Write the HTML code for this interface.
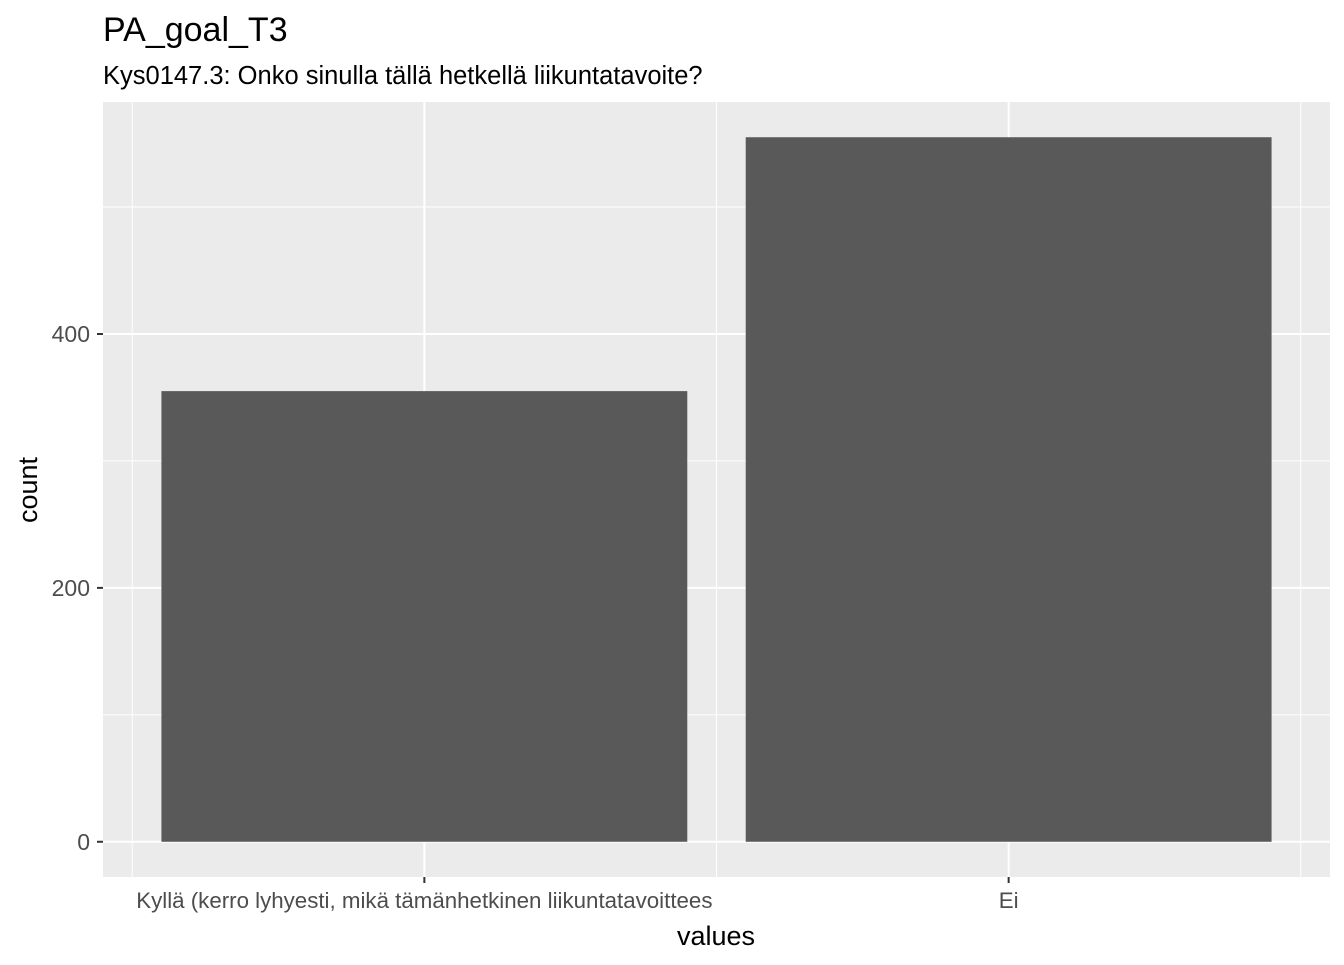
<!DOCTYPE html>
<html><head><meta charset="utf-8"><style>
body{margin:0;background:#fff;width:1344px;height:960px;overflow:hidden;font-family:"Liberation Sans",Arial,sans-serif}
</style></head><body>
<svg width="1344" height="960" id="chart" xmlns="http://www.w3.org/2000/svg">
<text x="103" y="41" font-size="34" fill="#000">PA_goal_T3</text>
<text x="103" y="84" font-size="25.5" fill="#000">Kys0147.3: Onko sinulla tällä hetkellä liikuntatavoite?</text>
<rect x="103" y="102" width="1227" height="775" fill="#ebebeb"/>
<g id="grid"></g><g id="bars"></g><g id="axes"></g>
<text x="716" y="945" font-size="27" text-anchor="middle" fill="#000">values</text>
<text transform="translate(37,490) rotate(-90)" font-size="27" text-anchor="middle" fill="#000">count</text>
</svg>
<script>
const categories=["Kyllä (kerro lyhyesti, mikä tämänhetkinen liikuntatavoittees","Ei"];
const counts=[355,555];
const yTicks=[0,200,400];
const ns="http://www.w3.org/2000/svg";
const L=103,R=1330,T=102,B=877;
const maxV=Math.max(...counts);
const yMin=-maxV*0.05,yMax=maxV*1.05;
const y=v=>B-(v-yMin)/(yMax-yMin)*(B-T);
const band=(R-L)/(categories.length+0.1);
const x=i=>L+band*0.55+band*i;
function mk(tag,attrs,parent){const e=document.createElementNS(ns,tag);for(const k in attrs)e.setAttribute(k,attrs[k]);document.getElementById(parent).appendChild(e);return e;}
for(let i=0;i<yTicks.length;i++){const m=yTicks[i]+100;const g=mk('line',{x1:L,x2:R,y1:y(m),y2:y(m),stroke:'#fff','stroke-width':1},'grid');

}
for(let i=0;i<=categories.length;i++){const xv=x(i)-band/2;const g=mk('line',{x1:xv,x2:xv,y1:T,y2:B,stroke:'#fff','stroke-width':1},'grid');

}
yTicks.forEach(t=>{const g=mk('line',{x1:L,x2:R,y1:y(t),y2:y(t),stroke:'#fff','stroke-width':2},'grid');


const tk=mk('line',{x1:L-6,x2:L,y1:y(t),y2:y(t),stroke:'#333','stroke-width':2},'axes');


const tx=mk('text',{x:L-13,y:y(t)+8,'font-size':23,'text-anchor':'end',fill:'#4d4d4d'},'axes');tx.textContent=t;

});
categories.forEach((c,i)=>{const g=mk('line',{x1:x(i),x2:x(i),y1:T,y2:B,stroke:'#fff','stroke-width':2},'grid');


const w=band*0.9;
const b=mk('rect',{x:x(i)-w/2,y:y(counts[i]),width:w,height:y(0)-y(counts[i]),fill:'#595959'},'bars');


const tk=mk('line',{x1:x(i),x2:x(i),y1:B,y2:B+6,stroke:'#333','stroke-width':2},'axes');


const tx=mk('text',{x:x(i),y:B+31,'font-size':22.3,'text-anchor':'middle',fill:'#4d4d4d'},'axes');tx.textContent=c;

});
</script>
</body></html>
